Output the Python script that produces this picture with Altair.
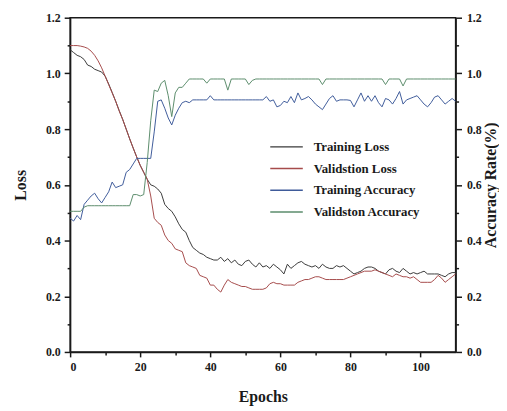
import altair as alt
import pandas as pd

epochs = list(range(111))

train_loss = [1.085, 1.075, 1.065, 1.06, 1.05, 1.03, 1.025, 1.015, 1.01, 1.005,
              0.99, 0.962, 0.932, 0.90, 0.867, 0.835, 0.80, 0.765, 0.732, 0.70,
              0.67, 0.645, 0.62, 0.60, 0.595, 0.585, 0.57, 0.53, 0.515, 0.505,
              0.485, 0.46, 0.44, 0.43, 0.40, 0.375, 0.365, 0.355, 0.35, 0.34,
              0.335, 0.33, 0.33, 0.34, 0.325, 0.335, 0.32, 0.33, 0.315, 0.31,
              0.325, 0.33, 0.315, 0.305, 0.32, 0.305, 0.31, 0.30, 0.315, 0.305,
              0.295, 0.28, 0.315, 0.30, 0.31, 0.32, 0.325, 0.315, 0.31, 0.305,
              0.31, 0.30, 0.315, 0.305, 0.30, 0.30, 0.31, 0.305, 0.31, 0.30,
              0.29, 0.28, 0.285, 0.29, 0.30, 0.305, 0.305, 0.30, 0.29, 0.285,
              0.28, 0.295, 0.30, 0.29, 0.285, 0.30, 0.29, 0.28, 0.285, 0.28,
              0.285, 0.29, 0.28, 0.28, 0.28, 0.28, 0.275, 0.27, 0.28, 0.285, 0.285]

val_loss = [1.10, 1.10, 1.10, 1.098, 1.095, 1.09, 1.08, 1.065, 1.045, 1.02,
            0.99, 0.96, 0.93, 0.90, 0.865, 0.835, 0.80, 0.765, 0.732, 0.70,
            0.67, 0.645, 0.62, 0.56, 0.48, 0.465, 0.455, 0.42, 0.40, 0.39,
            0.37, 0.365, 0.36, 0.32, 0.31, 0.305, 0.30, 0.275, 0.27, 0.265,
            0.24, 0.24, 0.225, 0.215, 0.24, 0.26, 0.25, 0.245, 0.24, 0.235,
            0.235, 0.23, 0.225, 0.225, 0.225, 0.225, 0.23, 0.245, 0.25, 0.245,
            0.245, 0.24, 0.24, 0.24, 0.24, 0.25, 0.255, 0.26, 0.26, 0.265,
            0.27, 0.27, 0.265, 0.26, 0.26, 0.26, 0.26, 0.26, 0.26, 0.265,
            0.27, 0.275, 0.28, 0.285, 0.29, 0.29, 0.29, 0.295, 0.29, 0.285,
            0.28, 0.275, 0.27, 0.28, 0.275, 0.27, 0.27, 0.265, 0.27, 0.26,
            0.25, 0.25, 0.25, 0.25, 0.26, 0.275, 0.265, 0.25, 0.26, 0.27, 0.28]

train_acc = [0.48, 0.47, 0.49, 0.475, 0.53, 0.545, 0.56, 0.57, 0.55, 0.535,
             0.555, 0.575, 0.61, 0.59, 0.595, 0.60, 0.645, 0.655, 0.675, 0.695,
             0.695, 0.695, 0.695, 0.695, 0.79, 0.90, 0.905, 0.875, 0.84, 0.815,
             0.85, 0.875, 0.895, 0.90, 0.895, 0.905, 0.905, 0.905, 0.905, 0.905,
             0.92, 0.905, 0.905, 0.905, 0.905, 0.905, 0.905, 0.905, 0.905, 0.905,
             0.905, 0.905, 0.905, 0.905, 0.905, 0.905, 0.917, 0.90, 0.905, 0.88,
             0.885, 0.90, 0.895, 0.917, 0.895, 0.93, 0.905, 0.91, 0.917, 0.905,
             0.89, 0.88, 0.87, 0.89, 0.91, 0.92, 0.90, 0.905, 0.905, 0.905,
             0.903, 0.88, 0.905, 0.93, 0.90, 0.92, 0.90, 0.92, 0.895, 0.88,
             0.91, 0.905, 0.89, 0.91, 0.935, 0.89, 0.905, 0.91, 0.915, 0.92,
             0.905, 0.89, 0.88, 0.895, 0.915, 0.92, 0.905, 0.89, 0.90, 0.91, 0.90]

val_acc = [0.505, 0.505, 0.505, 0.505, 0.52, 0.525, 0.525, 0.525, 0.525, 0.525,
           0.525, 0.525, 0.525, 0.525, 0.525, 0.525, 0.525, 0.525, 0.565, 0.565,
           0.56, 0.565, 0.68, 0.83, 0.94, 0.935, 0.965, 0.975, 0.92, 0.845,
           0.93, 0.95, 0.95, 0.965, 0.98, 0.98, 0.98, 0.98, 0.98, 0.965,
           0.98, 0.98, 0.98, 0.98, 0.98, 0.94, 0.98, 0.98, 0.98, 0.98,
           0.98, 0.96, 0.975, 0.98, 0.98, 0.98, 0.98, 0.98, 0.98, 0.98,
           0.98, 0.98, 0.98, 0.98, 0.98, 0.98, 0.98, 0.98, 0.98, 0.98,
           0.98, 0.98, 0.96, 0.98, 0.98, 0.98, 0.98, 0.98, 0.98, 0.98,
           0.98, 0.98, 0.98, 0.98, 0.98, 0.98, 0.98, 0.98, 0.98, 0.98,
           0.96, 0.98, 0.98, 0.98, 0.98, 0.955, 0.98, 0.98, 0.98, 0.98,
           0.98, 0.98, 0.98, 0.98, 0.98, 0.98, 0.98, 0.98, 0.98, 0.98, 0.98]

series_names = ["Training Loss", "Validstion Loss", "Training Accuracy", "Validston Accuracy"]
series_colors = ["#3a3a3a", "#a64b4b", "#3f5b9a", "#5b8c6c"]

x_ticks = [0, 10, 20, 30, 40, 50, 60, 70, 80, 90, 100]
y_ticks = [0.0, 0.1, 0.2, 0.3, 0.4, 0.5, 0.6, 0.7, 0.8, 0.9, 1.0, 1.1, 1.2]

rows = []
for name, vals in zip(series_names, [train_loss, val_loss, train_acc, val_acc]):
    for e, v in zip(epochs, vals):
        rows.append({"epoch": e, "value": v, "series": name})
df = pd.DataFrame(rows)

FONT = "Liberation Serif"
INK = "#1a1a1a"

color = alt.Color(
    "series:N",
    scale=alt.Scale(domain=series_names, range=series_colors),
    legend=alt.Legend(
        title=None, orient="none", legendX=202, legendY=123, padding=0,
        symbolType="stroke", symbolSize=1089, symbolStrokeWidth=1.5,
        clipHeight=16, rowPadding=6, labelOffset=10,
        labelFont=FONT, labelFontSize=13, labelFontWeight="bold", labelColor=INK,
    ),
)

x = alt.X(
    "epoch:Q",
    scale=alt.Scale(domain=[0, 110], nice=False, zero=False),
    axis=alt.Axis(
        values=x_ticks,
        labelExpr="datum.value % 20 == 0 ? datum.label : ''",
        tickSize={"condition": {"test": "datum.value % 20 == 0", "value": 5}, "value": 3},
        title="Epochs", titlePadding=16, labelPadding=5,
    ),
)

ylab = "round(datum.value * 10) % 2 == 0 ? format(datum.value, '.1f') : ''"
ytick = {"condition": {"test": "round(datum.value * 10) % 2 == 0", "value": 6}, "value": 3}

y_loss = alt.Y(
    "value:Q",
    scale=alt.Scale(domain=[0, 1.2], nice=False),
    axis=alt.Axis(orient="left", values=y_ticks, labelExpr=ylab, tickSize=ytick,
                  title="Loss", titlePadding=17, labelPadding=4),
)
y_acc = alt.Y(
    "value:Q",
    scale=alt.Scale(domain=[0, 1.2], nice=False),
    axis=alt.Axis(orient="right", values=y_ticks, labelExpr=ylab, tickSize=ytick,
                  title="Accuracy Rate(%)", titleAngle=270, titlePadding=17, labelPadding=5),
)

base = alt.Chart(df)
loss = base.transform_filter(
    alt.FieldOneOfPredicate(field="series", oneOf=series_names[:2])
).mark_line(strokeWidth=1.0).encode(x=x, y=y_loss, color=color, order="epoch:Q")
acc = base.transform_filter(
    alt.FieldOneOfPredicate(field="series", oneOf=series_names[2:])
).mark_line(strokeWidth=1.0).encode(x=x, y=y_acc, color=color, order="epoch:Q")

chart = alt.layer(loss, acc).resolve_scale(y="independent").properties(
    width=391, height=339,
    autosize=alt.AutoSizeParams(type="none"),
    padding={"left": 63, "top": 7, "right": 44, "bottom": 55},
).configure_view(stroke=INK, strokeWidth=1.5).configure_axis(
    domainColor=INK, domainWidth=1.5, tickColor=INK, tickWidth=1.5,
    labelFont=FONT, labelFontSize=12, labelFontWeight="bold", labelColor=INK,
    titleFont=FONT, titleFontSize=16, titleFontWeight="bold", titleColor=INK,
    grid=False,
)

chart.save("out.html", embed_options={"renderer": "svg", "actions": False})
